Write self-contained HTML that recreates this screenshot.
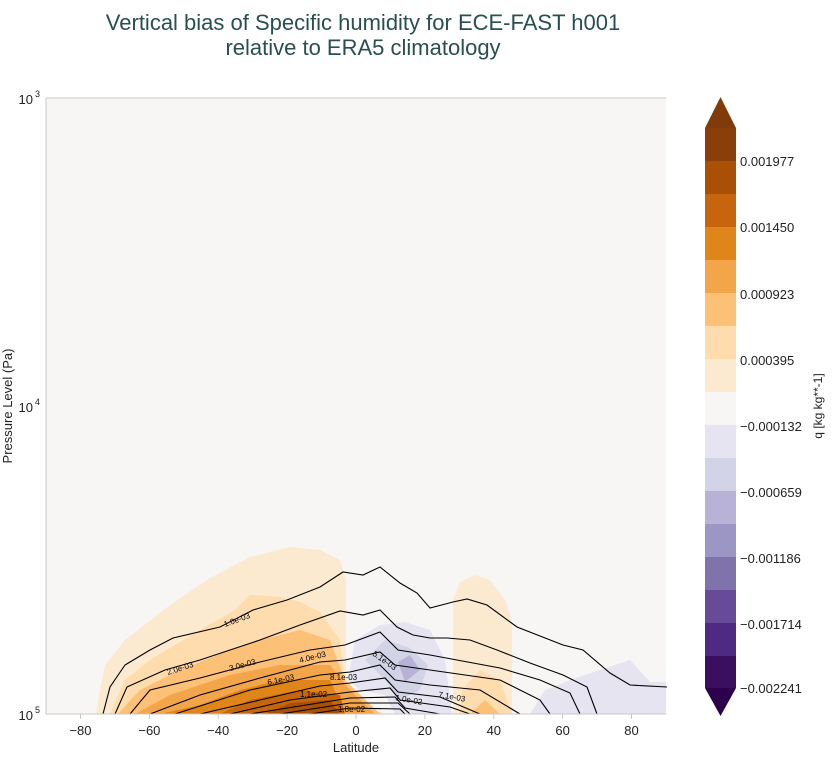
<!DOCTYPE html>
<html><head><meta charset="utf-8"><style>
body{margin:0;background:#fff;}
svg{display:block;font-family:"Liberation Sans",sans-serif;}
</style></head><body>
<svg width="835" height="766" viewBox="0 0 835 766">
<text x="363" y="30" font-size="22" fill="#2a4f4f" text-anchor="middle">Vertical bias of Specific humidity for ECE-FAST h001</text>
<text x="363" y="55" font-size="22" fill="#2a4f4f" text-anchor="middle">relative to ERA5 climatology</text>
<rect x="46" y="98" width="620" height="616" fill="#f7f6f4"/>
<!-- fills -->
<polygon fill="#fbeacf" points="96,714 100,690 105,665 125,640 170,605 210,578 250,557 290,547 320,550 340,560 346,580 346,714"/>
<polygon fill="#fbeacf" points="453,714 453,600 460,582 475,575 490,580 505,600 512,620 512,714"/>
<polygon fill="#fedcad" points="110,714 125,680 150,660 200,630 235,610 250,595 280,597 300,602 320,612 340,640 346,700 385,714"/>
<polygon fill="#fedcad" points="460,714 462,690 480,670 500,680 512,714"/>
<polygon fill="#fdc077" points="118,714 140,690 180,670 230,650 260,640 300,630 330,640 345,680 380,714"/>
<polygon fill="#fdc077" points="470,714 485,700 500,714"/>
<polygon fill="#f3a54a" points="135,714 170,695 230,675 280,665 330,665 350,690 375,714"/>
<polygon fill="#e08519" points="160,714 200,705 240,690 280,680 330,680 345,714"/>
<polygon fill="#c6650d" points="220,714 250,700 300,690 340,695 345,714"/>
<polygon fill="#a94f06" points="265,714 290,703 330,700 340,714"/>
<polygon fill="#e6e4f0" points="348,680 355,640 380,625 405,622 430,630 445,660 452,714 395,714 385,695 360,690"/>
<polygon fill="#d2d3e7" points="365,660 385,640 410,648 428,665 420,690 400,700 385,680"/>
<polygon fill="#b8b3d6" points="398,662 410,655 420,670 405,682"/>
<polygon fill="#e6e4f0" points="530,714 545,690 570,680 600,670 630,660 650,682 666,682 666,714"/>
<!-- contours -->
<g fill="none" stroke="#000" stroke-width="1.1">
<polyline points="103,714 110,687 125,665 150,650 173,638 220,627 253,610 287,600 320,587 343,572 363,575 380,567 400,583 417,593 430,608 453,602 467,599 487,605 517,627 563,645 583,650 610,673 630,685 667,687"/>
<polyline points="115,714 127,687 165,670 200,660 230,650 260,640 300,625 340,611 363,615 380,610 397,627 413,635 430,638 447,638 470,640 497,650 530,663 563,675 587,687 597,714"/>
<polyline points="130,714 150,690 200,678 260,662 310,650 345,645 380,632 398,650 430,655 500,668 540,680 570,693 580,714"/>
<polyline points="150,714 200,695 260,678 320,662 345,660 380,652 395,665 430,670 500,680 540,700 550,714"/>
<polyline points="175,714 250,690 320,675 350,672 380,665 395,680 430,685 480,690 520,714"/>
<polyline points="200,714 260,700 320,686 350,683 385,678 398,692 440,697 480,714"/>
<polyline points="230,714 290,700 350,692 390,688 400,700 450,707 470,714"/>
<polyline points="250,714 300,706 350,698 395,697 405,708 440,714"/>
<polyline points="280,714 350,703 398,703 410,714"/>
<polyline points="310,714 350,708 400,709 405,714"/>
</g>
<g font-size="8" fill="#000">
<text x="225" y="627" transform="rotate(-20 225 627)">1.0e-03</text>
<text x="168" y="675" transform="rotate(-18 168 675)">2.0e-03</text>
<text x="230" y="671" transform="rotate(-15 230 671)">3.0e-03</text>
<text x="300" y="663" transform="rotate(-14 300 663)">4.0e-03</text>
<text x="268" y="685" transform="rotate(-12 268 685)">6.1e-03</text>
<text x="330" y="680">8.1e-03</text>
<text x="372" y="655" transform="rotate(35 372 655)">5.1e-03</text>
<text x="300" y="697">1.1e-02</text>
<text x="438" y="697" transform="rotate(10 438 697)">7.1e-03</text>
<text x="395" y="700" transform="rotate(10 395 700)">1.0e-02</text>
<text x="338" y="712">1.8e-02</text>
</g>
<!-- axes -->
<g stroke="#c8c8c8" stroke-width="1">
<line x1="46" y1="98" x2="666" y2="98"/>
<line x1="46" y1="714" x2="666" y2="714"/>
<line x1="46" y1="98" x2="46" y2="714"/>
<line x1="80.5" y1="714" x2="80.5" y2="719"/><line x1="149.4" y1="714" x2="149.4" y2="719"/><line x1="218.2" y1="714" x2="218.2" y2="719"/><line x1="287.1" y1="714" x2="287.1" y2="719"/><line x1="356" y1="714" x2="356" y2="719"/><line x1="424.9" y1="714" x2="424.9" y2="719"/><line x1="493.8" y1="714" x2="493.8" y2="719"/><line x1="562.6" y1="714" x2="562.6" y2="719"/><line x1="631.5" y1="714" x2="631.5" y2="719"/>
</g>
<g font-size="13" fill="#222" text-anchor="middle">
<text x="80.5" y="735">−80</text><text x="149.4" y="735">−60</text><text x="218.2" y="735">−40</text><text x="287.1" y="735">−20</text><text x="356" y="735">0</text><text x="424.9" y="735">20</text><text x="493.8" y="735">40</text><text x="562.6" y="735">60</text><text x="631.5" y="735">80</text>
<text x="356" y="752">Latitude</text>
</g>
<g font-size="13" fill="#222" text-anchor="end">
<text x="33" y="104">10</text><text x="40" y="97" font-size="9">3</text>
<text x="33" y="412">10</text><text x="40" y="405" font-size="9">4</text>
<text x="33" y="720">10</text><text x="40" y="713" font-size="9">5</text>
</g>
<text x="12" y="406" font-size="13" fill="#222" text-anchor="middle" transform="rotate(-90 12 406)">Pressure Level (Pa)</text>
<!-- colorbar -->
<g stroke="none">
<polygon fill="#7f3b08" points="705,128 720.5,97 736,128"/>
<rect x="705" y="128" width="31" height="33" fill="#8a3f0a"/>
<rect x="705" y="161" width="31" height="33" fill="#a94f06"/>
<rect x="705" y="194" width="31" height="33" fill="#c6650d"/>
<rect x="705" y="227" width="31" height="33" fill="#e08519"/>
<rect x="705" y="260" width="31" height="33" fill="#f3a54a"/>
<rect x="705" y="293" width="31" height="33" fill="#fdc077"/>
<rect x="705" y="326" width="31" height="33" fill="#fedcad"/>
<rect x="705" y="359" width="31" height="33" fill="#fbeacf"/>
<rect x="705" y="392" width="31" height="33" fill="#f7f6f4"/>
<rect x="705" y="425" width="31" height="33" fill="#e6e4f0"/>
<rect x="705" y="458" width="31" height="33" fill="#d2d3e7"/>
<rect x="705" y="491" width="31" height="33" fill="#b8b3d6"/>
<rect x="705" y="524" width="31" height="33" fill="#9c96c4"/>
<rect x="705" y="557" width="31" height="33" fill="#8073ac"/>
<rect x="705" y="590" width="31" height="33" fill="#674a98"/>
<rect x="705" y="623" width="31" height="33" fill="#4f2a82"/>
<rect x="705" y="656" width="31" height="32" fill="#3a0f60"/>
<polygon fill="#2d004b" points="705,688 720.5,716 736,688"/>
</g>
<g font-size="13" fill="#222">
<text x="740" y="166">0.001977</text>
<text x="740" y="232">0.001450</text>
<text x="740" y="299">0.000923</text>
<text x="740" y="365">0.000395</text>
<text x="740" y="431">−0.000132</text>
<text x="740" y="497">−0.000659</text>
<text x="740" y="563">−0.001186</text>
<text x="740" y="629">−0.001714</text>
<text x="740" y="693">−0.002241</text>
</g>
<text x="822" y="406" font-size="12" fill="#222" text-anchor="middle" transform="rotate(-90 822 406)">q [kg kg**-1]</text>
</svg>
</body></html>
